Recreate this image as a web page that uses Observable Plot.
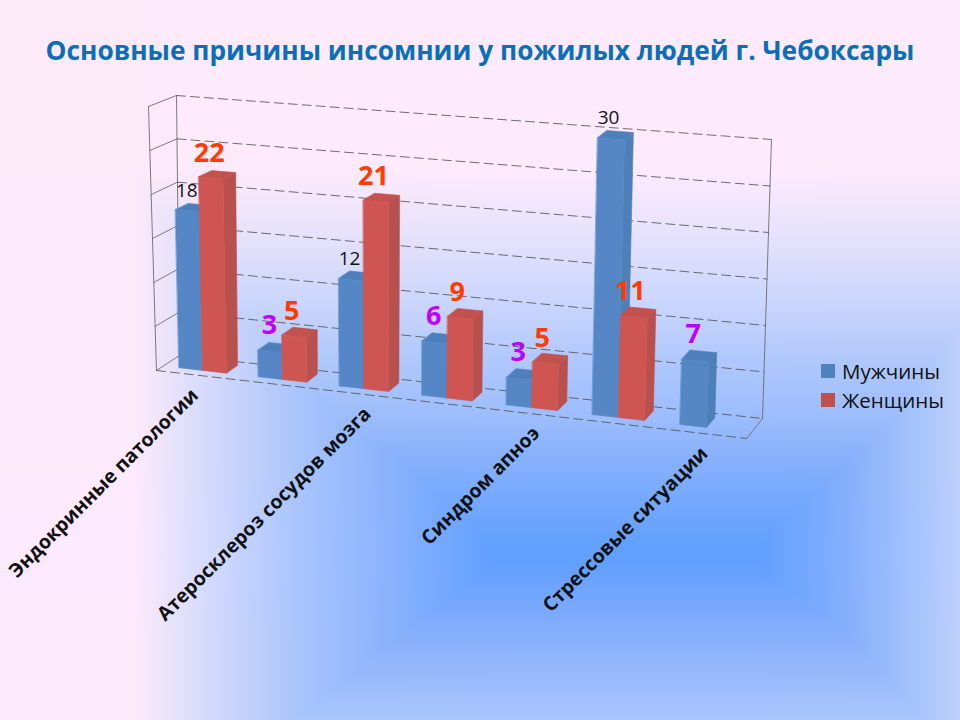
<!DOCTYPE html>
<html lang="ru">
<head>
<meta charset="utf-8">
<script src="https://cdn.jsdelivr.net/npm/d3@7"></script>
<script src="https://cdn.jsdelivr.net/npm/@observablehq/plot@0.6"></script>
<style>
html,body{margin:0;padding:0;background:#fdebfa;}
body{width:960px;height:720px;overflow:hidden;position:relative;font-family:"Open Sans",sans-serif;}
#bg{position:absolute;left:0;top:0;width:960px;height:720px;
background-image:
 linear-gradient(90deg,#fdeaf9 0px,#fdeaf9 135px,#d8dcfb 200px,#a9c4fb 300px,#85b0fb 400px,#62a0fd 490px,#62a0fd 760px,#86b0fb 850px,#bcd0fb 960px),
 linear-gradient(180deg,#fdeaf9 0px,#fdeaf9 170px,#e8e3fa 230px,#cbd6fb 300px,#b0c8fb 360px,#9bbcfb 420px,#86b0fb 460px,#5f9eff 552px,#5f9eff 558px,#88b0fb 640px,#abc6fb 720px);
background-blend-mode:lighten;}
#title{position:absolute;left:0;top:32px;width:960px;text-align:center;font-weight:700;font-size:26.3px;line-height:36px;color:#0b6fb8;white-space:nowrap;}
#chart{position:absolute;left:0;top:0;}
#chart svg{background:transparent;display:block;}
#legend{position:absolute;left:821px;top:357px;font-size:20.5px;color:#111;}
#legend div{display:flex;align-items:center;height:28.5px;}
#legend i{display:block;width:14px;height:14px;margin-right:7px;}
</style>
</head>
<body>
<div id="bg"></div>
<div id="title"></div>
<div id="chart"></div>
<div id="legend"></div>
<script>
const titleText = "Основные причины инсомнии у пожилых людей г. Чебоксары";
const categories = ["Эндокринные патологии", "", "Атеросклероз сосудов мозга", "", "Синдром апноэ", "", "Стрессовые ситуации"];
const seriesNames = ["Мужчины", "Женщины"];
const men   = [18, 3, 12, 6, 3, 30, 7];
const women = [22, 5, 21, 9, 5, 11, null];
const gridValues = [0, 5, 10, 15, 20, 25, 30];

const palette = [
  {front:"#5587c6", side:"#4f7fb9", top:"#4d7fbd", legend:"#4f81bd"},
  {front:"#cf5552", side:"#b8504e", top:"#c3514e", legend:"#c0504d"}
];

// 3-D box of the chart: u along categories, d depth (0 front, 1 back), v value.
const vMax = 30;
const box = {
  floor:{fl:[156,370], fr:[746,438], bl:[179,355], br:[762,418]},
  roof: {fl:[148,106], fr:[756,155], bl:[176,95],  br:[771,139]}
};
const mix = (a,b,t)=>[a[0]+(b[0]-a[0])*t, a[1]+(b[1]-a[1])*t];
const plane = (p,u,d)=>mix(mix(p.fl,p.fr,u),mix(p.bl,p.br,u),d);
const project = (u,d,v)=>mix(plane(box.floor,u,d),plane(box.roof,u,d),v/vMax);
const uOf = t=>0.93*t+0.07*t*t;            // slight perspective along the categories
const slot = c=>uOf(c/categories.length);

const faces=[], lines=[], labels=[];
function pushFace(id,color,corners){corners.forEach(c=>{const p=project(...c);faces.push({id,color,px:p[0],py:p[1]});});}
function pushLine(id,kind,a,b){[a,b].forEach(c=>{const p=project(...c);lines.push({id,kind,px:p[0],py:p[1]});});}

const d0=0.30,d1=0.80;
categories.forEach((_,i)=>{
  [men,women].forEach((vals,s)=>{
    const v=vals[i]; if(v==null) return;
    const u0=slot(i+0.2+s*0.3),u1=slot(i+0.5+s*0.3);
    const id=`b${i}-${s}`, c=palette[s];
    pushFace(id+"s",c.side,[[u1,d0,0],[u1,d1,0],[u1,d1,v],[u1,d0,v]]);
    pushFace(id+"t",c.top,[[u0,d0,v],[u1,d0,v],[u1,d1,v],[u0,d1,v]]);
    pushFace(id+"f",c.front,[[u0,d0,0],[u1,d0,0],[u1,d0,v],[u0,d0,v]]);
    const p=project((u0+u1)/2,(d0+d1)/2,v);
    const big=s===1||v<12;
    labels.push({text:String(v),big,
      px:p[0]-(s===1?8:big?6:7),
      py:p[1]-(s===1?21:big?22:17),
      color:s===1?"#ff3c00":(big?"#c000ff":"#111")});
  });
});
gridValues.forEach(v=>{
  pushLine("back"+v,"dash",[0,1,v],[1,1,v]);
  pushLine("left"+v,"solid",[0,0,v],[0,1,v]);
});
pushLine("front","dash",[0,0,0],[1,0,0]);
pushLine("rightFloor","solid",[1,0,0],[1,1,0]);
pushLine("edgeL0","solid",[0,0,0],[0,0,vMax]);
pushLine("edgeL1","solid",[0,1,0],[0,1,vMax]);
pushLine("edgeR1","solid",[1,1,0],[1,1,vMax]);

const labelNudge=[-8,0,3,0,3,0,-4];
const catLabels=categories.map((text,i)=>{
  const p=project(slot(i+0.5),0,0);
  return {text,px:p[0]+labelNudge[i],py:p[1]+1};
}).filter(d=>d.text);

const plot=Plot.plot({
  width:960,height:720,margin:0,
  x:{domain:[0,960],range:[0,960],axis:null},
  y:{domain:[0,720],range:[0,720],axis:null},
  color:{type:"identity"},
  marks:[
    Plot.line(lines.filter(d=>d.kind==="solid"),{x:"px",y:"py",z:"id",stroke:"#666",strokeWidth:1,strokeOpacity:0.85}),
    Plot.line(lines.filter(d=>d.kind==="dash"),{x:"px",y:"py",z:"id",stroke:"#555",strokeWidth:1,strokeDasharray:"9,5",strokeOpacity:0.85}),
    Plot.line(faces,{x:"px",y:"py",z:"id",fill:"color",stroke:"color",strokeWidth:0.6,curve:"linear-closed"}),
    Plot.text(labels.filter(d=>d.big),{x:"px",y:"py",text:"text",fill:"color",fontSize:27,fontWeight:700,fontFamily:"Open Sans"}),
    Plot.text(labels.filter(d=>!d.big),{x:"px",y:"py",text:"text",fill:"color",fontSize:19,fontFamily:"Open Sans"}),
    Plot.text(catLabels,{x:"px",y:"py",text:"text",rotate:-45,textAnchor:"end",dx:7,dy:16,fill:"#111",fontSize:19.5,fontWeight:700,fontFamily:"Open Sans"})
  ]
});
document.getElementById("chart").appendChild(plot);
document.getElementById("title").textContent=titleText;
const lg=document.getElementById("legend");
seriesNames.forEach((n,s)=>{
  const r=document.createElement("div");
  const k=document.createElement("i");k.style.background=palette[s].legend;
  r.appendChild(k);r.appendChild(document.createTextNode(n));lg.appendChild(r);
});
</script>
</body>
</html>
